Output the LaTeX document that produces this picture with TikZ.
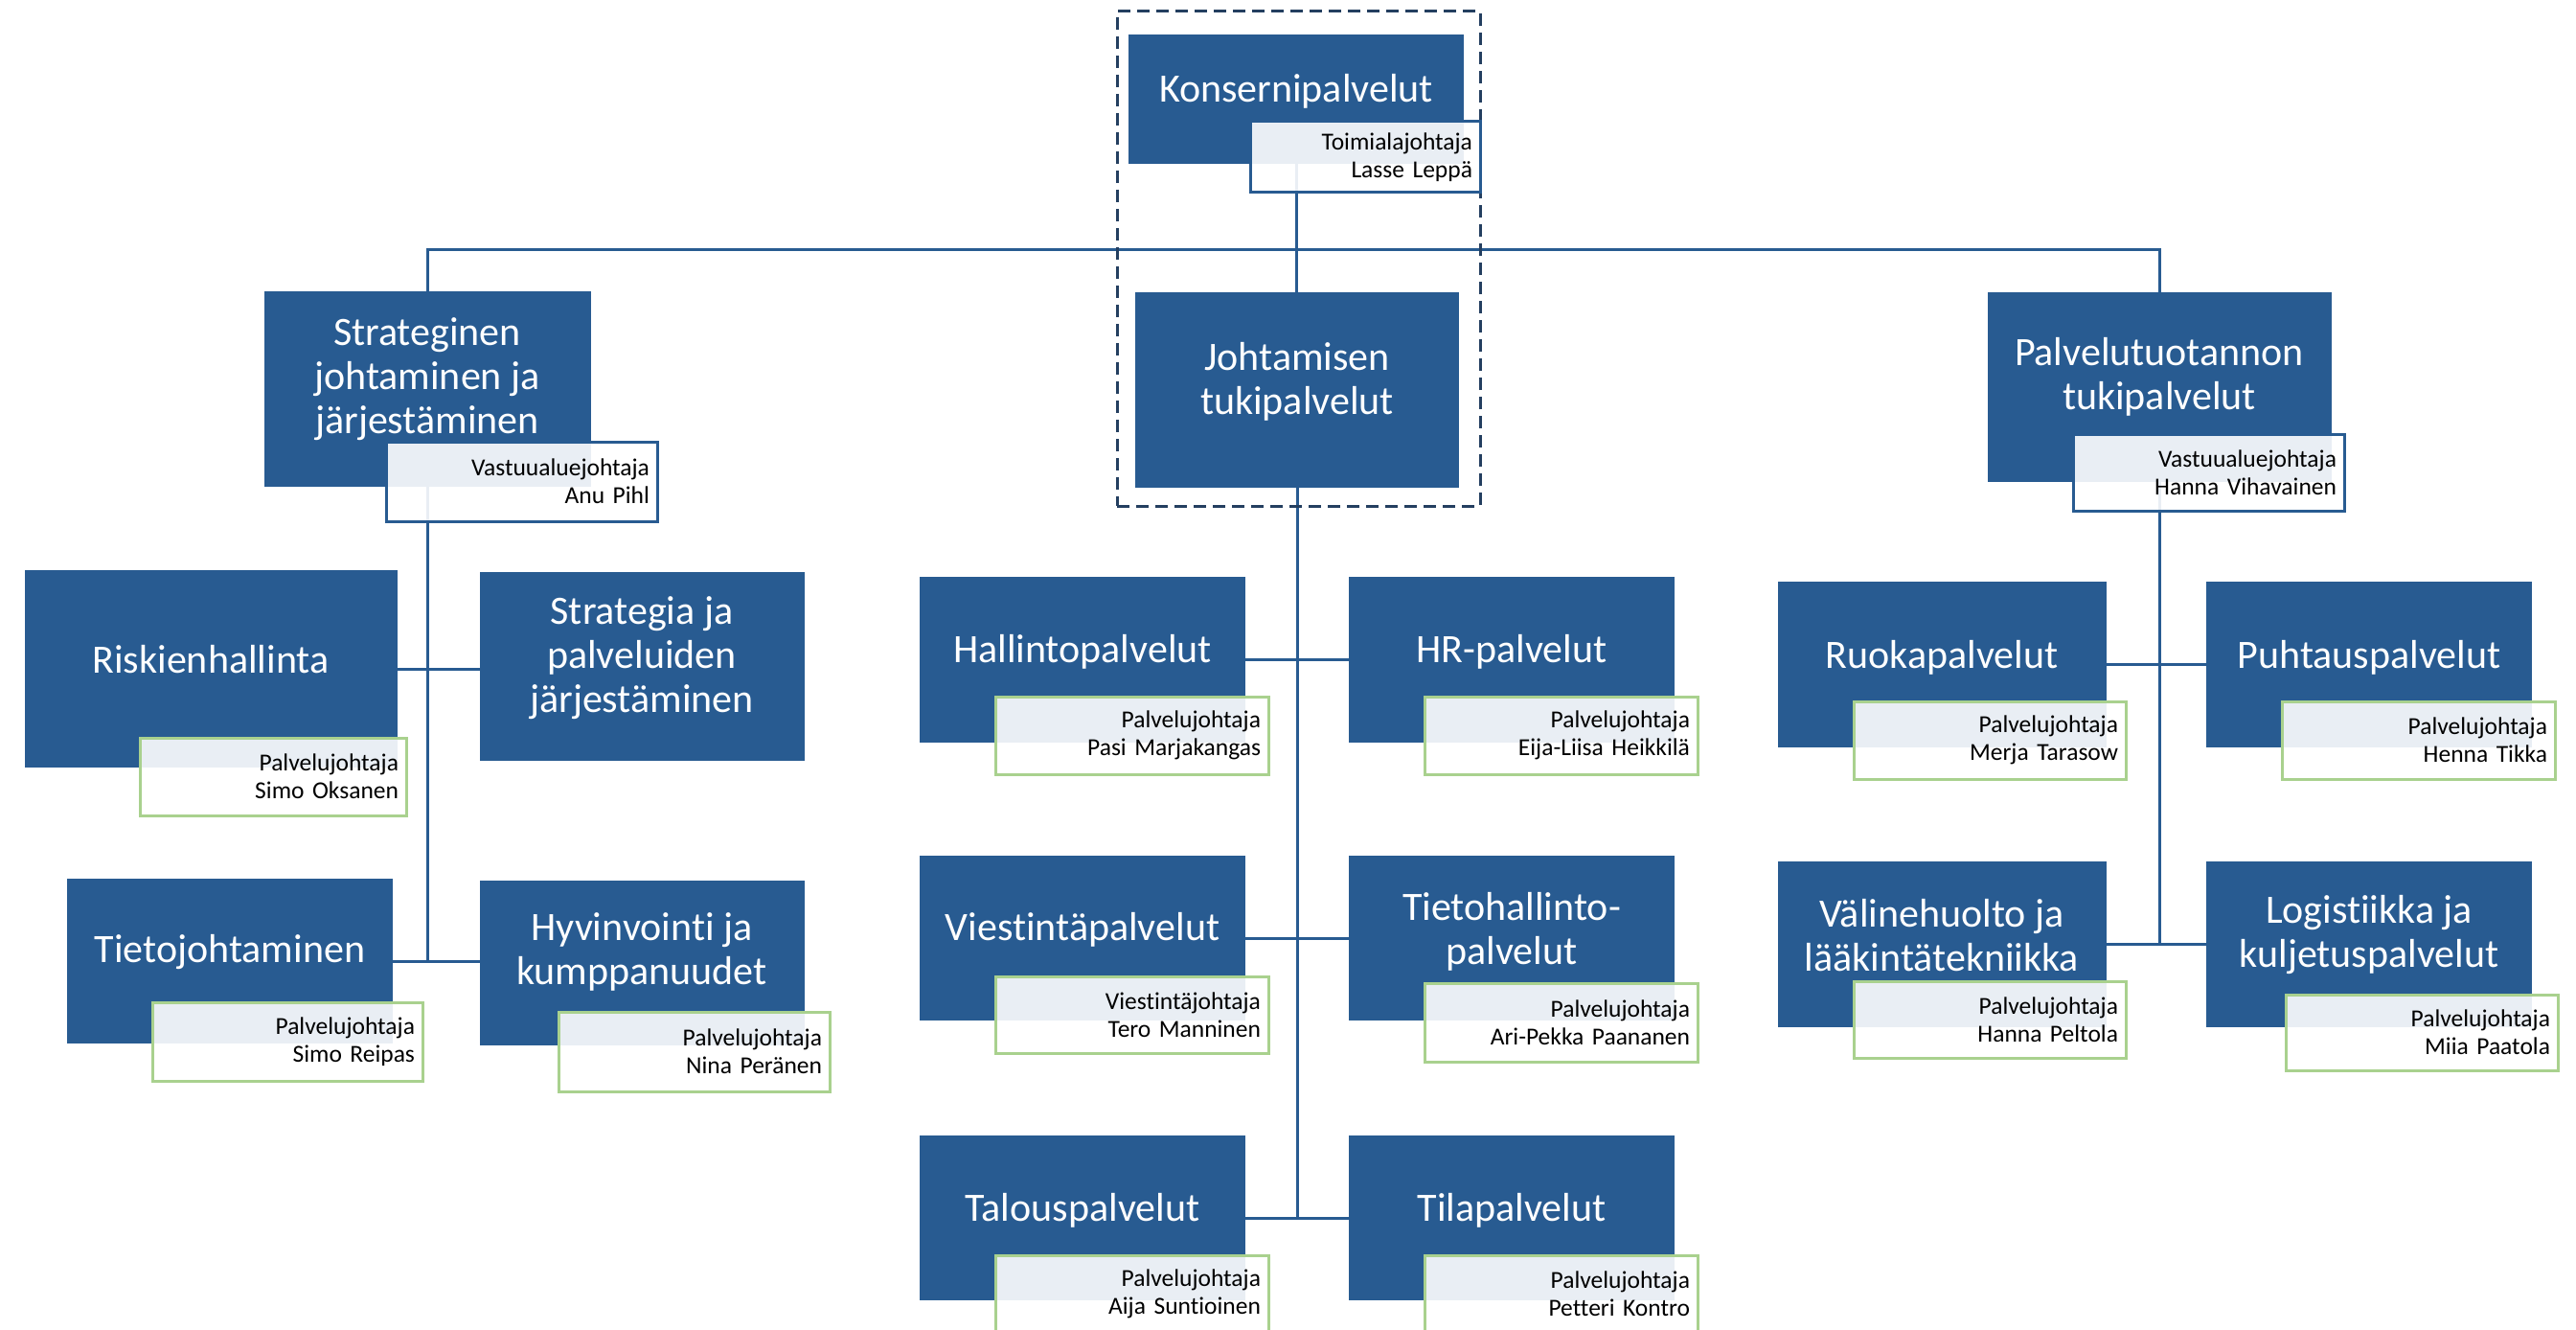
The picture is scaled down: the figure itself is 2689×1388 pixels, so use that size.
\documentclass[tikz,border=0pt]{standalone}
\usepackage{fontspec}
\setmainfont{Carlito}[Ligatures={NoCommon,NoRare}]
\definecolor{cblue}{HTML}{285B91}
\definecolor{cgreen}{HTML}{A9D18E}
\definecolor{cdash}{HTML}{243F60}
\tikzset{
 unit/.style={fill=cblue, draw=none, inner sep=0pt},
 utext/.style={text=white, align=center, font=\fontsize{42}{46}\selectfont, inner sep=0pt},
 namebase/.style={fill=white, fill opacity=0.9, text opacity=1, line width=3pt, align=right, font=\fontsize{25.5}{29}\selectfont, inner xsep=8pt, inner ysep=0pt, text=black},
 nameblue/.style={namebase, draw=cblue},
 namegreen/.style={namebase, draw=cgreen},
 conn/.style={draw=cblue, line width=3pt},
 frame/.style={draw=cdash, line width=3pt, dash pattern=on 13pt off 7pt, fill=none, inner sep=0pt}
}
\newcommand\obox[5]{%
 \pgfmathsetmacro\bw{#4-#2}\pgfmathsetmacro\bh{#5-#3}%
 \pgfmathsetmacro\bx{(#2+#4)/2}\pgfmathsetmacro\by{(#3+#5)/2}%
 \node[unit, minimum width=\bw pt, minimum height=\bh pt] (#1) at (\bx,\by) {};}
\newcommand\onbox[7]{%
 \pgfmathsetmacro\bw{#4-#2}\pgfmathsetmacro\bh{#5-#3}\pgfmathsetmacro\tw{#4-#2-16}%
 \pgfmathsetmacro\bx{(#2+#4)/2}\pgfmathsetmacro\by{(#3+#5)/2}%
 \node[#6, minimum width=\bw pt, minimum height=\bh pt, text width=\tw pt] (#1) at (\bx,\by) {#7};}
\begin{document}
\begin{tikzpicture}[x=1pt,y=-1pt]
\useasboundingbox (0,0) rectangle (2689,1388);
\clip (0,0) rectangle (2689,1388);
% units
\obox{kons}{1178}{36}{1528}{171}
\obox{joht}{1185}{305}{1523}{509}
\obox{strat}{276}{304}{617}{508}
\obox{palv}{2075}{305}{2434}{503}
\obox{riski}{26}{595}{415}{801}
\obox{strpal}{501}{597}{840}{794}
\obox{tieto}{70}{917}{410}{1089}
\obox{hyvin}{501}{919}{840}{1091}
\obox{hall}{960}{602}{1300}{775}
\obox{hr}{1408}{602}{1748}{775}
\obox{viest}{960}{893}{1300}{1065}
\obox{tiha}{1408}{893}{1748}{1065}
\obox{talous}{960}{1185}{1300}{1357}
\obox{tila}{1408}{1185}{1748}{1357}
\obox{ruoka}{1856}{607}{2199}{780}
\obox{puht}{2303}{607}{2643}{780}
\obox{valine}{1856}{899}{2199}{1072}
\obox{logi}{2303}{899}{2643}{1072}
% unit texts
\node[utext] (konsT) at (1353,95) {Konsernipalvelut};
\node[utext] (johtT) at (1354,398) {Johtamisen\\tukipalvelut};
\node[utext] (stratT) at (446,396) {Strateginen\\johtaminen ja\\järjestäminen};
\node[utext] (palvT) at (2254,393) {Palvelutuotannon\\tukipalvelut};
\node[utext] (riskiT) at (220,688) {Riskienhallinta};
\node[utext] (strpalT) at (670,687) {Strategia ja\\palveluiden\\järjestäminen};
\node[utext] (tietoT) at (240,994) {Tietojohtaminen};
\node[utext] (hyvinT) at (670,993) {Hyvinvointi ja\\kumppanuudet};
\node[utext] (hallT) at (1130,680) {Hallintopalvelut};
\node[utext] (hrT) at (1578,680) {HR-palvelut};
\node[utext] (viestT) at (1130,970) {Viestintäpalvelut};
\node[utext] (tihaT) at (1578,972) {Tietohallinto-\\palvelut};
\node[utext] (talousT) at (1130,1263) {Talouspalvelut};
\node[utext] (tilaT) at (1578,1263) {Tilapalvelut};
\node[utext] (ruokaT) at (2027,686) {Ruokapalvelut};
\node[utext] (puhtT) at (2473,686) {Puhtauspalvelut};
\node[utext] (valineT) at (2027,976) {Välinehuolto ja\\lääkintätekniikka};
\node[utext] (logiT) at (2473,976) {Logistiikka ja\\kuljetuspalvelut};
% connectors
\coordinate (hub) at (1354,261);
\draw[conn] (kons.south) -- (kons.south |- joht.north);
\draw[conn] (strat.north) |- (hub) -| (palv.north);
\draw[conn] (strat.south) |- (tieto.east);
\draw[conn] (riski.east) -- (riski.east -| strpal.west);
\draw[conn] (tieto.east) -- (tieto.east -| hyvin.west);
\draw[conn] (joht.south) |- (talous.east);
\draw[conn] (hall.east) -- (hr.west);
\draw[conn] (viest.east) -- (tiha.west);
\draw[conn] (talous.east) -- (tila.west);
\draw[conn] (palv.south) |- (valine.east);
\draw[conn] (ruoka.east) -- (puht.west);
\draw[conn] (valine.east) -- (logi.west);
% dashed frame
\node[frame, minimum width=379pt, minimum height=516pt] (frameK) at (1355.5,270) {};
% name boxes
\onbox{konsN}{1305}{127}{1545}{201}{nameblue}{Toimialajohtaja\\Lasse Leppä}
\onbox{stratN}{403}{461}{686}{544}{nameblue}{Vastuualuejohtaja\\Anu Pihl}
\onbox{palvN}{2164}{453}{2447}{533}{nameblue}{Vastuualuejohtaja\\Hanna Vihavainen}
\onbox{riskiN}{146}{770}{424}{851}{namegreen}{Palvelujohtaja\\Simo Oksanen}
\onbox{tietoN}{159}{1046}{441}{1128}{namegreen}{Palvelujohtaja\\Simo Reipas}
\onbox{hyvinN}{583}{1056}{866}{1139}{namegreen}{Palvelujohtaja\\Nina Peränen}
\onbox{hallN}{1039}{727}{1324}{808}{namegreen}{Palvelujohtaja\\Pasi Marjakangas}
\onbox{hrN}{1487}{727}{1772}{808}{namegreen}{Palvelujohtaja\\Eija-Liisa Heikkilä}
\onbox{viestN}{1039}{1019}{1324}{1099}{namegreen}{Viestintäjohtaja\\Tero Manninen}
\onbox{tihaN}{1487}{1026}{1772}{1108}{namegreen}{Palvelujohtaja\\Ari-Pekka Paananen}
\onbox{talousN}{1039}{1310}{1324}{1391}{namegreen}{Palvelujohtaja\\Aija Suntioinen}
\onbox{tilaN}{1487}{1310}{1772}{1391}{namegreen}{Palvelujohtaja\\Petteri Kontro}
\onbox{ruokaN}{1935}{732}{2219}{813}{namegreen}{Palvelujohtaja\\Merja Tarasow}
\onbox{puhtN}{2382}{732}{2667}{813}{namegreen}{Palvelujohtaja\\Henna Tikka}
\onbox{valineN}{1935}{1024}{2219}{1104}{namegreen}{Palvelujohtaja\\Hanna Peltola}
\onbox{logiN}{2386}{1038}{2670}{1117}{namegreen}{Palvelujohtaja\\Miia Paatola}
\end{tikzpicture}
\end{document}
